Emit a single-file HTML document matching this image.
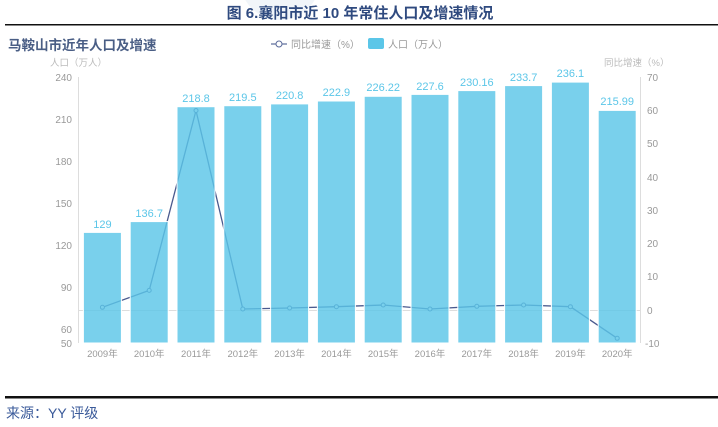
<!DOCTYPE html>
<html><head><meta charset="utf-8"><style>
body{margin:0;background:#fff;width:718px;height:427px;overflow:hidden}
svg{display:block}
text{font-family:"Liberation Sans","Noto Sans CJK SC",sans-serif}
</style></head><body>
<svg width="718" height="427" xmlns="http://www.w3.org/2000/svg">
<circle cx="280" cy="-20" r="40" fill="#e8eef5" opacity="0.6"/>
<text x="360" y="18" text-anchor="middle" font-size="15" font-weight="bold" fill="#2f4a7f">图 6.襄阳市近 10 年常住人口及增速情况</text>
<rect x="5" y="24" width="713" height="1.5" fill="#111"/>
<text x="8" y="50" font-size="13.5" font-weight="bold" fill="#4a5e85">马鞍山市近年人口及增速</text>
<line x1="271" y1="44" x2="287" y2="44" stroke="#5a6a9a" stroke-width="1.2"/>
<circle cx="279" cy="44" r="3" fill="#fff" stroke="#5a6a9a"/>
<text x="291" y="48" font-size="10" fill="#999">同比增速（%）</text>
<rect x="368" y="38" width="16" height="11" rx="2" fill="#5bc6e8"/>
<text x="388" y="48" font-size="10" fill="#999">人口（万人）</text>
<text x="50" y="66" font-size="9.5" fill="#bbb">人口（万人）</text>
<text x="604" y="66" font-size="9.5" fill="#bbb">同比增速（%）</text>
<line x1="78.5" y1="77" x2="78.5" y2="343" stroke="#ddd"/>
<line x1="640.5" y1="77" x2="640.5" y2="343" stroke="#ddd"/>
<line x1="78" y1="310.5" x2="640" y2="310.5" stroke="#ddd"/>
<g font-size="10" fill="#999" text-anchor="end">
<text x="72" y="81">240</text><text x="72" y="123">210</text><text x="72" y="165">180</text><text x="72" y="207">150</text><text x="72" y="249">120</text><text x="72" y="291">90</text><text x="72" y="333">60</text><text x="72" y="347">50</text>
</g>
<g font-size="10" fill="#999">
<text x="647" y="81">70</text><text x="647" y="114">60</text><text x="647" y="147">50</text><text x="647" y="181">40</text><text x="647" y="214">30</text><text x="647" y="247">20</text><text x="647" y="280">10</text><text x="647" y="314">0</text><text x="645" y="347">-10</text>
</g>
<g id="line" fill="none" stroke="#4a5a8e" stroke-width="1.3">
<polyline points="102.4,307.3 149.2,290.4 196,110.5 242.8,309 289.6,308 336.4,306.7 383.2,305 430,309 476.8,306.3 523.6,305 570.4,306.7 617.2,338.3"/>
</g>
<g fill="#fff" stroke="#4a5a8e" stroke-width="1">
<circle cx="102.4" cy="307.3" r="2"/><circle cx="149.2" cy="290.4" r="2"/><circle cx="196" cy="110.5" r="2"/><circle cx="242.8" cy="309" r="2"/><circle cx="289.6" cy="308" r="2"/><circle cx="336.4" cy="306.7" r="2"/><circle cx="383.2" cy="305" r="2"/><circle cx="430" cy="309" r="2"/><circle cx="476.8" cy="306.3" r="2"/><circle cx="523.6" cy="305" r="2"/><circle cx="570.4" cy="306.7" r="2"/><circle cx="617.2" cy="338.3" r="2"/>
</g>
<g fill="#5bc6e8" fill-opacity="0.82" stroke="#fff" stroke-width="1">
<rect x="83.4" y="232.4" width="38" height="110.6"/>
<rect x="130.2" y="221.6" width="38" height="121.4"/>
<rect x="177" y="106.7" width="38" height="236.3"/>
<rect x="223.8" y="105.7" width="38" height="237.3"/>
<rect x="270.6" y="103.9" width="38" height="239.1"/>
<rect x="317.4" y="101" width="38" height="242"/>
<rect x="364.2" y="96.3" width="38" height="246.7"/>
<rect x="411" y="94.4" width="38" height="248.6"/>
<rect x="457.8" y="90.6" width="38" height="252.4"/>
<rect x="504.6" y="85.6" width="38" height="257.4"/>
<rect x="551.4" y="82.1" width="38" height="260.9"/>
<rect x="598.2" y="110.4" width="38" height="232.6"/>
</g>
<g font-size="11" fill="#5bc6e8" text-anchor="middle">
<text x="102.4" y="228">129</text><text x="149.2" y="217">136.7</text><text x="196" y="102">218.8</text><text x="242.8" y="101">219.5</text><text x="289.6" y="99">220.8</text><text x="336.4" y="96">222.9</text><text x="383.2" y="91">226.22</text><text x="430" y="90">227.6</text><text x="476.8" y="86">230.16</text><text x="523.6" y="81">233.7</text><text x="570.4" y="77">236.1</text><text x="617.2" y="105">215.99</text>
</g>
<g font-size="9.5" fill="#999" text-anchor="middle">
<text x="102.4" y="357">2009年</text><text x="149.2" y="357">2010年</text><text x="196" y="357">2011年</text><text x="242.8" y="357">2012年</text><text x="289.6" y="357">2013年</text><text x="336.4" y="357">2014年</text><text x="383.2" y="357">2015年</text><text x="430" y="357">2016年</text><text x="476.8" y="357">2017年</text><text x="523.6" y="357">2018年</text><text x="570.4" y="357">2019年</text><text x="617.2" y="357">2020年</text>
</g>
<rect x="5" y="396" width="713" height="2.5" fill="#111"/>
<text x="6" y="418" font-size="14" fill="#3a5a9a">来源：YY 评级</text>
</svg>
</body></html>
